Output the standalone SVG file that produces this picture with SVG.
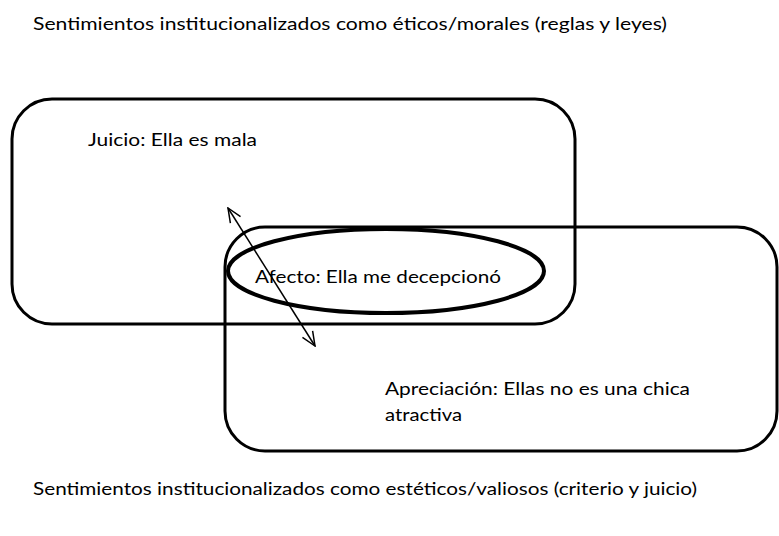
<svg xmlns="http://www.w3.org/2000/svg" width="779" height="536" viewBox="0 0 779 536">
<style>
.t{font-family:Lato,"Open Sans","Liberation Sans",sans-serif;font-size:17.5px;fill:#000}
.box{fill:none;stroke:#000;stroke-width:3}
.ell{fill:none;stroke:#000;stroke-width:4}
.con{stroke:#000;stroke-width:1.5;fill:none}
</style>
<defs>
<marker id="ah" viewBox="0 0 16 16" refX="15" refY="8" markerWidth="16" markerHeight="16" markerUnits="userSpaceOnUse" orient="auto-start-reverse">
<path d="M1,2 L15,8 L1,14" fill="none" stroke="#000" stroke-width="1.5"/>
</marker>
</defs>
<rect width="779" height="536" fill="#fff"/>
<text class="t" x="33" y="30" textLength="634" lengthAdjust="spacingAndGlyphs">Sentimientos institucionalizados como éticos/morales (reglas y leyes)</text>
<g id="juicio">
<rect class="box" x="12" y="99" width="563" height="225" rx="40"/>
<text class="t" x="88" y="146" textLength="169" lengthAdjust="spacingAndGlyphs">Juicio: Ella es mala</text>
</g>
<g id="apreciacion">
<rect class="box" x="225" y="227" width="552" height="224" rx="40"/>
<text class="t" x="385" y="395" textLength="305" lengthAdjust="spacingAndGlyphs">Apreciación: Ellas no es una chica</text>
<text class="t" x="385" y="421" textLength="77" lengthAdjust="spacingAndGlyphs">atractiva</text>
</g>
<g id="afecto">
<ellipse class="ell" cx="386" cy="271" rx="158" ry="42"/>
<text class="t" x="255" y="283" textLength="246" lengthAdjust="spacingAndGlyphs">Afecto: Ella me decepcionó</text>
</g>
<g id="connectors">
<line class="con" x1="228" y1="208" x2="315" y2="346" marker-start="url(#ah)" marker-end="url(#ah)"/>
</g>
<text class="t" x="33" y="495" textLength="664" lengthAdjust="spacingAndGlyphs">Sentimientos institucionalizados como estéticos/valiosos (criterio y juicio)</text>
</svg>
